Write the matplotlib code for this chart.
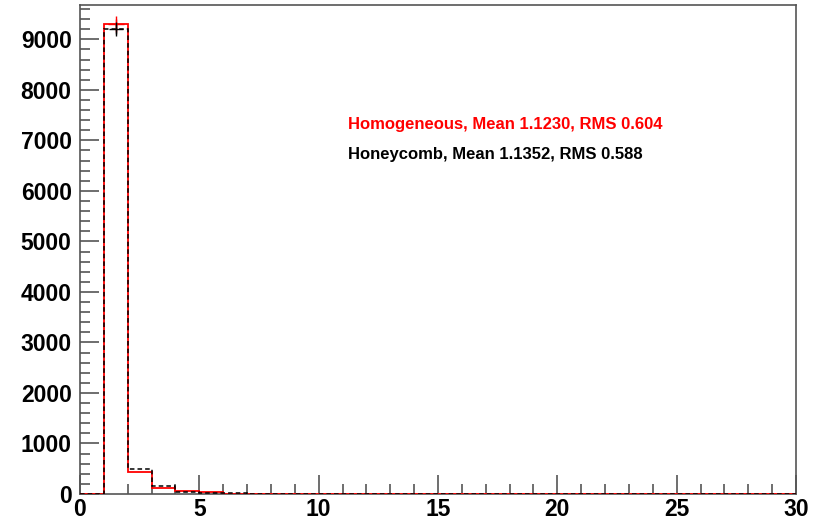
import numpy as np
import matplotlib
matplotlib.use("Agg")
import matplotlib.pyplot as plt
from matplotlib.ticker import MultipleLocator

plt.rcParams['font.family'] = ['Liberation Sans', 'DejaVu Sans']

# bin edges 0..30, one count per unit bin
edges = np.arange(0, 31)
homogeneous = [0, 9307, 441, 125, 60, 33, 8, 3, 2, 1] + [0] * 20
honeycomb = [0, 9208, 495, 158, 45, 25, 18, 5, 2, 1] + [0] * 20

label_homo = "Homogeneous, Mean 1.1230, RMS 0.604"
label_honey = "Honeycomb, Mean 1.1352, RMS 0.588"

fig = plt.figure(figsize=(8.21, 5.20), dpi=100)
ax = fig.add_axes([80 / 821, 26 / 520, 716 / 821, 489 / 520])

ax.stairs(homogeneous, edges, color='red', lw=1.3, zorder=3)
ax.stairs(honeycomb, edges, color='black', lw=1.1, ls=(0, (3, 2)), zorder=4)

# error cross on the peak bin
ax.errorbar(1.5, homogeneous[1], yerr=np.sqrt(homogeneous[1]), color='red',
            lw=1, marker='+', ms=12, zorder=5)
ax.errorbar(1.5, honeycomb[1], yerr=np.sqrt(honeycomb[1]), color='black',
            lw=1, marker='+', ms=10, zorder=5)

ax.set_xlim(0, 30)
ax.set_ylim(0, 9680)

ax.xaxis.set_major_locator(MultipleLocator(5))
ax.xaxis.set_minor_locator(MultipleLocator(1))
ax.yaxis.set_major_locator(MultipleLocator(1000))
ax.yaxis.set_minor_locator(MultipleLocator(200))
ax.tick_params(which='both', direction='in', color='#555555', width=1.2,
               top=False, right=False)
ax.tick_params(which='major', length=14, labelsize=16.5)
ax.tick_params(axis='y', which='major', pad=6)
ax.tick_params(axis='x', which='major', pad=3)
ax.tick_params(which='minor', length=7)
for lab in ax.get_xticklabels() + ax.get_yticklabels():
    lab.set_fontweight('bold')

for s in ax.spines.values():
    s.set_color('#555555')
    s.set_linewidth(1.2)

# legend lines, positions in pixels from the top left
ax.text(348, 520 - 125, label_homo, transform=None, color='red',
        fontsize=12, fontweight='bold', va='center', ha='left')
ax.text(348, 520 - 155, label_honey, transform=None, color='black',
        fontsize=12, fontweight='bold', va='center', ha='left')

fig.savefig("out.png", dpi=100)
